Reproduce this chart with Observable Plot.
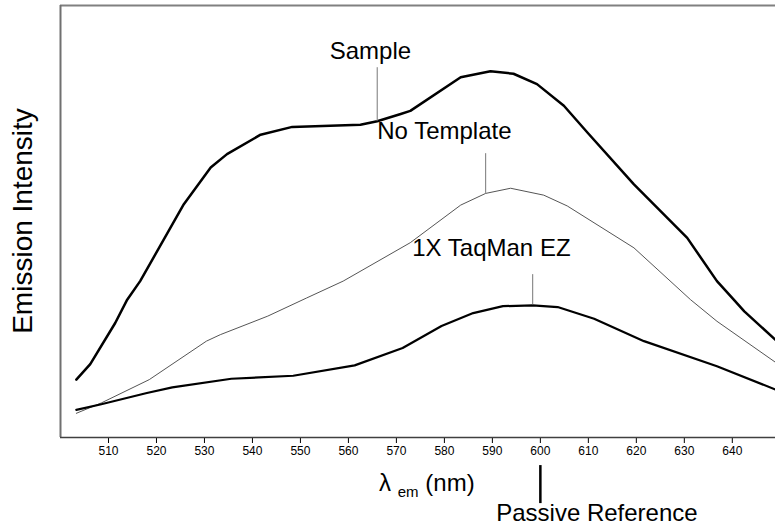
<!DOCTYPE html>
<html>
<head>
<meta charset="utf-8">
<script src="https://cdn.jsdelivr.net/npm/d3@7"></script>
<script src="https://cdn.jsdelivr.net/npm/@observablehq/plot@0.6"></script>
<style>
  html, body { margin: 0; padding: 0; background: #fff; }
  svg { display: block; }
</style>
</head>
<body>
<div id="chart"></div>
<script>
// ---- data (wavelength in nm, emission intensity in arbitrary units) ----
const xTicks = [510, 520, 530, 540, 550, 560, 570, 580, 590, 600, 610, 620, 630, 640];

const sampleNm = [503.3, 506.2, 511.4, 513.9, 516.6, 525.7, 531.3, 534.7, 541.7, 548.3, 562.5, 566.0, 570.9, 572.9, 583.4, 589.6, 594.4, 599.3, 604.9, 609.8, 619.5, 630.6, 636.8, 640.3, 642.5, 649];
const sampleI  = [13.4, 17.0, 26.5, 31.9, 36.2, 54.0, 62.5, 65.6, 70.1, 71.9, 72.4, 73.2, 74.9, 75.6, 83.4, 84.8, 84.2, 81.8, 76.8, 70.6, 58.6, 46.2, 36.2, 31.9, 29.2, 22.6];

const noTemplateNm = [503.3, 508.5, 518.5, 530.4, 533.3, 543.2, 551.3, 558.9, 572.9, 583.4, 588.6, 593.8, 600.7, 605.6, 619.5, 631.3, 636.8, 649];
const noTemplateI  = [5.6, 8.0, 13.4, 22.3, 23.8, 28.1, 32.3, 36.2, 45.1, 53.8, 56.5, 57.7, 56.1, 53.6, 43.9, 31.9, 26.9, 17.4];

const taqmanNm = [503.3, 508.5, 518.0, 523.3, 535.6, 548.5, 561.3, 571.3, 579.4, 586.0, 592.2, 598.4, 603.6, 611.2, 621.6, 636.8, 649];
const taqmanI  = [6.4, 7.7, 10.3, 11.6, 13.6, 14.3, 16.7, 20.7, 25.8, 28.8, 30.4, 30.6, 30.2, 27.5, 22.3, 16.5, 11.1];

// annotation labels: text anchor point and leader line (data units)
const labelNames = ["Sample", "No Template", "1X TaqMan EZ", "Passive Reference"];
const labelNm    = [556.1, 566.0, 573.3, 590.8];
const labelI     = [87.7, 69.2, 41.9, -19.4];
const leaderNm   = [566.0, 588.6, 598.4, 600];
const leaderI1   = [85.6, 65.7, 37.7, -6.5];
const leaderI2   = [73.2, 56.5, 30.7, -15.3];

// ---- build tables ----
const toRows = (xs, ys) => xs.map((x, i) => ({nm: x, I: ys[i]}));
const sample = toRows(sampleNm, sampleI);
const noTemplate = toRows(noTemplateNm, noTemplateI);
const taqman = toRows(taqmanNm, taqmanI);
const labels = labelNames.map((t, i) => ({text: t, nm: labelNm[i], I: labelI[i]}));
const leaders = labelNames.map((t, i) => ({nm: leaderNm[i], y1: leaderI1[i], y2: leaderI2[i], passive: i === 3}));

const xMin = 500, xMax = 649, yMin = 0, yMax = 100;

const chart = Plot.plot({
  width: 775,
  height: 528,
  marginLeft: 60,
  marginRight: 0,
  marginTop: 5,
  marginBottom: 91,
  style: {fontFamily: "'Liberation Sans', Arial, sans-serif", fontSize: "12px", color: "#000", background: "#fff"},
  x: {domain: [xMin, xMax], ticks: xTicks, tickSize: 6, tickPadding: 3, tickFormat: d => String(d), label: null},
  y: {domain: [yMin, yMax], axis: null},
  marks: [
    Plot.ruleY([yMax], {stroke: "#808080", strokeWidth: 2}),
    Plot.ruleX([xMin], {stroke: "#707070", strokeWidth: 2}),
    Plot.ruleY([yMin], {stroke: "#404040", strokeWidth: 1.5}),
    Plot.line(noTemplate, {x: "nm", y: "I", stroke: "#555", strokeWidth: 1}),
    Plot.line(taqman, {x: "nm", y: "I", stroke: "#000", strokeWidth: 2.2}),
    Plot.line(sample, {x: "nm", y: "I", stroke: "#000", strokeWidth: 2.5}),
    Plot.ruleX(leaders.filter(d => !d.passive), {x: "nm", y1: "y1", y2: "y2", stroke: "#777", strokeWidth: 1}),
    Plot.ruleX(leaders.filter(d => d.passive), {x: "nm", y1: "y1", y2: "y2", stroke: "#000", strokeWidth: 2.5}),
    Plot.text(labels, {x: "nm", y: "I", text: "text", textAnchor: "start", lineAnchor: "bottom", fontSize: 24, fill: "#000"})
  ]
});

document.getElementById("chart").appendChild(chart);

// axis titles (positioned through the plot's scales)
const xs = chart.scale("x"), ys = chart.scale("y");
const svg = d3.select(chart);
const xt = svg.append("text")
  .attr("x", xs.apply(566.5))
  .attr("y", ys.apply(-12.5))
  .attr("text-anchor", "start")
  .attr("font-size", 24)
  .attr("fill", "#000");
xt.append("tspan").text("λ ");
xt.append("tspan").attr("font-size", 15).attr("dy", 6).text("em");
xt.append("tspan").attr("dy", -6).text(" (nm)");

svg.append("text")
  .attr("transform", `translate(32,${ys.apply(50)}) rotate(-90)`)
  .attr("text-anchor", "middle")
  .attr("font-size", 28)
  .attr("fill", "#000")
  .text("Emission Intensity");
</script>
</body>
</html>
